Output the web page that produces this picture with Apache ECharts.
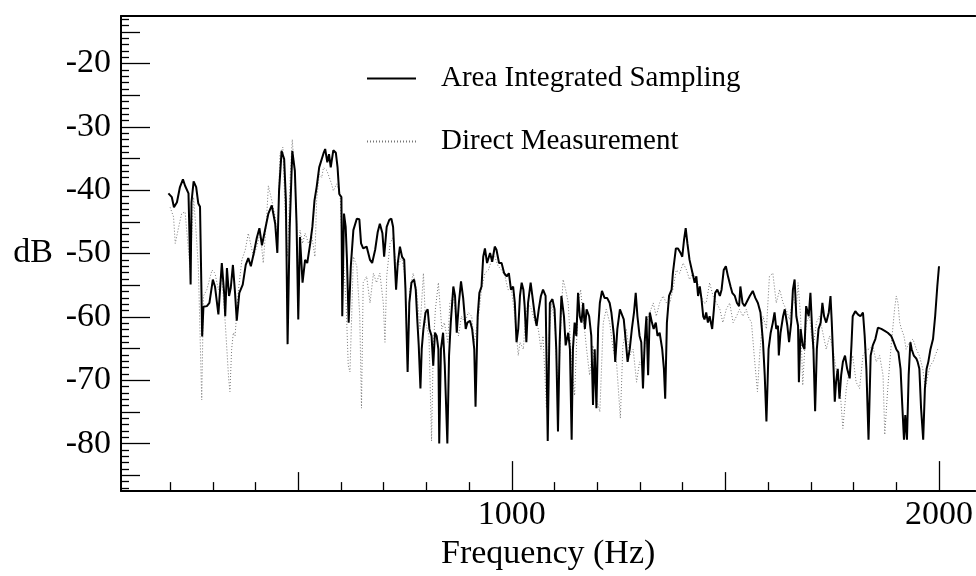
<!DOCTYPE html>
<html>
<head>
    <meta http-equiv="Content-Type" content="text/html; charset=utf-8" />
    <script src="https://cdn.jsdelivr.net/npm/echarts@6/dist/echarts.min.js"></script>
    <style>
        html, body { margin: 0; padding: 0; background: #fff; }
        #main { width: 976px; height: 576px; }
    </style>
    <title></title>
</head>
<body>
    <div id="main"></div>
    <script type="text/javascript">

        // Area Integrated Sampling (solid)
        var areaFreq = [196, 204, 209, 216, 220, 223, 230, 235, 243, 245, 248, 250, 255, 261, 266, 270, 273, 275, 278, 286,
            292, 300, 305, 313, 321, 327, 329, 333, 338, 342, 347, 352, 356, 362, 370, 377, 383, 389, 396, 403,
            409, 415, 423, 430, 438, 446, 451, 455, 461, 467, 471, 475, 480, 486, 492, 496, 500, 504, 510, 516,
            521, 528, 533, 538, 543, 549, 559, 563, 568, 572, 576, 582, 588, 592, 596, 601, 603, 607, 611, 614,
            618, 623, 629, 637, 643, 647, 652, 660, 668, 673, 680, 686, 691, 697, 701, 707, 713, 718, 722, 726,
            729, 733, 738, 743, 748, 751, 756, 760, 765, 771, 775, 779, 782, 786, 789, 793, 798, 803, 807, 812,
            816, 820, 824, 828, 830, 834, 839, 843, 849, 853, 857, 863, 867, 871, 876, 881, 886, 892, 896, 902,
            907, 912, 915, 920, 924, 929, 933, 937, 942, 949, 954, 960, 964, 970, 976, 982, 988, 993, 998, 1003,
            1007, 1011, 1015, 1019, 1023, 1027, 1030, 1034, 1038, 1044, 1048, 1054, 1058, 1063, 1068, 1073, 1079, 1084, 1089, 1095,
            1100, 1104, 1108, 1112, 1116, 1122, 1126, 1132, 1136, 1140, 1143, 1147, 1151, 1155, 1159, 1163, 1167, 1171, 1175, 1181,
            1186, 1190, 1194, 1198, 1202, 1206, 1211, 1217, 1223, 1229, 1233, 1239, 1242, 1247, 1253, 1257, 1262, 1267, 1271, 1276,
            1281, 1286, 1290, 1294, 1299, 1303, 1307, 1311, 1315, 1319, 1323, 1328, 1332, 1337, 1341, 1346, 1352, 1356, 1359, 1363,
            1368, 1374, 1377, 1384, 1389, 1395, 1399, 1403, 1407, 1411, 1416, 1423, 1428, 1432, 1436, 1440, 1444, 1448, 1451, 1455,
            1459, 1463, 1469, 1473, 1476, 1481, 1487, 1491, 1496, 1501, 1506, 1512, 1516, 1522, 1527, 1532, 1535, 1540, 1545, 1551,
            1557, 1564, 1570, 1576, 1582, 1588, 1592, 1596, 1601, 1606, 1611, 1615, 1619, 1623, 1625, 1629, 1635, 1639, 1645, 1649,
            1654, 1658, 1662, 1666, 1670, 1672, 1676, 1681, 1685, 1689, 1695, 1699, 1703, 1706, 1710, 1714, 1718, 1723, 1727, 1731,
            1736, 1742, 1746, 1749, 1752, 1756, 1759, 1763, 1767, 1771, 1775, 1780, 1785, 1791, 1795, 1798, 1804, 1810, 1816, 1822,
            1826, 1830, 1835, 1840, 1845, 1851, 1857, 1865, 1873, 1880, 1888, 1894, 1900, 1905, 1910, 1914, 1918, 1921, 1925, 1929,
            1933, 1936, 1941, 1947, 1950, 1954, 1958, 1963, 1967, 1971, 1975, 1980, 1986, 1991, 1996, 2000];
        var areaDb = [-40.5, -41.1, -42.7, -41.9, -42.2, -39.5, -38.3, -39.3, -40.5, -40.7, -54.9, -41.9, -38.6, -39.5, -42.1, -42.6, -54.6, -63.1, -58.4, -58.3,
            -57.8, -54.1, -55.2, -59.6, -51.5, -56.7, -59.9, -52.3, -56.7, -55.4, -51.8, -56.2, -60.6, -56.2, -54.9, -51.8, -50.7, -52.0, -49.9, -47.5,
            -46.0, -48.7, -46.0, -43.7, -42.4, -45.3, -49.9, -40.1, -33.8, -35.1, -41.6, -64.3, -45.8, -33.8, -36.9, -45.3, -60.4, -47.4, -54.6, -51.0,
            -51.5, -48.4, -45.8, -41.6, -39.5, -36.4, -34.2, -33.5, -35.6, -34.3, -36.4, -33.7, -34.1, -36.4, -40.6, -41.1, -59.9, -43.7, -45.8, -51.0,
            -60.9, -52.0, -46.3, -44.5, -44.6, -48.4, -49.2, -48.9, -51.0, -51.5, -49.4, -46.6, -45.3, -46.8, -50.5, -45.8, -44.7, -44.5, -45.8, -51.5,
            -55.7, -51.5, -48.9, -50.5, -51.0, -55.7, -68.7, -57.8, -54.6, -54.1, -55.7, -60.9, -64.5, -71.3, -65.1, -61.9, -59.3, -58.8, -61.9, -63.0,
            -67.7, -62.5, -63.0, -65.1, -80.0, -65.1, -62.5, -67.7, -80.0, -66.1, -60.9, -55.2, -56.7, -62.5, -57.8, -54.4, -57.0, -61.9, -60.9, -60.6,
            -61.9, -65.1, -74.2, -59.9, -56.2, -55.2, -50.5, -49.2, -51.5, -49.9, -51.3, -48.9, -49.4, -51.5, -51.5, -53.1, -53.6, -53.1, -55.7, -55.2,
            -57.8, -64.0, -61.9, -56.7, -54.6, -55.7, -58.3, -64.0, -57.8, -54.6, -56.7, -59.9, -61.4, -58.8, -56.7, -55.7, -56.7, -79.6, -57.8, -57.2,
            -58.8, -65.1, -78.1, -64.0, -56.7, -59.9, -64.5, -62.5, -65.1, -79.4, -65.1, -60.9, -63.0, -56.2, -59.9, -60.9, -57.8, -61.9, -58.8, -59.9,
            -63.0, -73.9, -65.1, -74.4, -61.9, -57.8, -55.9, -57.0, -57.0, -57.8, -59.3, -63.0, -67.1, -61.9, -58.8, -58.5, -60.4, -64.0, -67.1, -65.1,
            -61.9, -59.3, -56.2, -59.9, -63.0, -64.0, -71.3, -64.0, -59.9, -69.2, -59.3, -60.9, -61.9, -60.9, -63.0, -62.5, -65.1, -68.2, -72.9, -60.9,
            -56.7, -55.7, -53.1, -49.2, -49.2, -49.9, -50.5, -47.9, -46.0, -48.4, -51.0, -53.1, -54.6, -53.6, -56.7, -55.2, -57.2, -59.9, -60.4, -59.3,
            -60.9, -59.9, -61.9, -58.8, -56.2, -55.7, -56.7, -55.7, -52.6, -52.0, -53.6, -55.2, -56.2, -56.7, -57.8, -58.3, -55.2, -57.8, -58.3, -57.5,
            -56.7, -55.9, -57.0, -57.8, -59.3, -64.0, -69.2, -76.5, -65.1, -62.5, -60.9, -59.3, -61.9, -61.4, -66.1, -62.5, -59.9, -58.8, -61.4, -64.0,
            -60.9, -55.7, -54.1, -59.9, -61.4, -70.3, -61.9, -64.5, -65.1, -58.3, -59.9, -56.2, -61.9, -65.1, -74.9, -65.1, -61.9, -60.9, -57.8, -59.9,
            -60.9, -59.3, -56.7, -60.9, -66.1, -73.4, -70.3, -68.2, -72.9, -69.2, -67.1, -66.1, -68.2, -69.7, -64.5, -59.9, -59.1, -59.6, -59.9, -59.3,
            -63.0, -68.2, -79.4, -66.1, -64.5, -63.5, -61.7, -61.9, -62.2, -62.5, -63.0, -64.0, -65.1, -65.6, -68.2, -73.9, -79.4, -75.5, -79.4, -69.2,
            -64.0, -65.1, -66.1, -66.6, -67.1, -68.2, -74.4, -79.4, -71.3, -68.2, -67.1, -65.1, -63.5, -59.9, -55.2, -52.0];

        // Direct Measurement (dotted)
        var directFreq = [200, 208, 212, 220, 227, 235, 247, 255, 261, 266, 274, 278, 286, 298, 305, 313, 321, 329, 337, 340,
            344, 348, 352, 360, 368, 376, 383, 395, 403, 411, 418, 426, 430, 438, 446, 451, 457, 464, 469, 475,
            481, 486, 492, 496, 500, 504, 510, 516, 524, 532, 539, 543, 549, 555, 559, 567, 578, 582, 590, 598,
            602, 606, 612, 617, 621, 625, 629, 637, 644, 648, 652, 660, 668, 676, 683, 691, 699, 703, 707, 715,
            722, 728, 734, 742, 750, 756, 761, 769, 777, 785, 793, 798, 806, 812, 816, 821, 828, 836, 842, 850,
            855, 863, 867, 875, 882, 890, 898, 906, 912, 917, 923, 929, 937, 945, 953, 960, 968, 976, 984, 991,
            999, 1007, 1015, 1019, 1027, 1032, 1038, 1046, 1054, 1062, 1068, 1073, 1081, 1085, 1093, 1101, 1108, 1116, 1120, 1126,
            1132, 1140, 1147, 1155, 1161, 1167, 1175, 1182, 1190, 1198, 1206, 1214, 1221, 1229, 1237, 1245, 1254, 1260, 1268, 1276,
            1284, 1292, 1299, 1307, 1315, 1323, 1331, 1338, 1346, 1354, 1362, 1370, 1377, 1385, 1393, 1401, 1409, 1416, 1424, 1432,
            1440, 1448, 1455, 1463, 1471, 1479, 1487, 1494, 1502, 1510, 1518, 1526, 1533, 1541, 1549, 1553, 1561, 1568, 1575, 1580,
            1588, 1596, 1603, 1611, 1619, 1627, 1635, 1642, 1650, 1658, 1666, 1670, 1676, 1681, 1689, 1697, 1705, 1713, 1720, 1728,
            1736, 1744, 1752, 1759, 1767, 1775, 1783, 1791, 1798, 1806, 1814, 1822, 1830, 1837, 1845, 1853, 1861, 1869, 1873, 1880,
            1888, 1896, 1900, 1904, 1908, 1912, 1918, 1923, 1931, 1939, 1947, 1954, 1962, 1968, 1974, 1980, 1986, 1991, 1997];
        var directDb = [-42.7, -44.2, -48.4, -45.8, -43.7, -43.4, -52.6, -41.1, -46.8, -52.0, -73.1, -56.7, -55.7, -52.6, -53.1, -55.7, -53.6, -60.9, -69.7, -71.8,
            -65.1, -62.5, -63.0, -55.7, -51.0, -49.4, -46.8, -50.5, -48.9, -46.6, -51.5, -44.2, -39.3, -41.6, -44.2, -48.9, -34.3, -33.2, -43.2, -50.5,
            -38.0, -32.0, -38.0, -44.2, -58.8, -46.3, -48.4, -46.8, -48.4, -47.4, -50.5, -41.6, -37.5, -38.0, -36.4, -36.9, -39.0, -40.1, -39.0, -40.6,
            -47.4, -51.5, -57.8, -67.7, -68.7, -59.9, -50.5, -52.0, -59.9, -74.4, -54.6, -53.6, -57.8, -53.1, -54.6, -53.1, -57.8, -64.0, -53.6, -48.4,
            -47.4, -51.5, -52.0, -50.5, -53.6, -68.2, -55.7, -53.1, -55.7, -61.9, -53.1, -60.9, -63.0, -79.6, -65.1, -58.8, -54.6, -61.9, -60.9, -64.0,
            -57.8, -56.7, -58.8, -63.0, -59.9, -60.9, -59.3, -59.9, -64.0, -61.9, -59.3, -55.7, -53.1, -52.6, -51.0, -50.5, -52.0, -52.6, -53.6, -55.7,
            -55.7, -59.9, -66.1, -64.0, -65.1, -59.9, -57.8, -58.8, -60.9, -61.9, -65.1, -63.0, -74.4, -65.1, -57.8, -60.9, -72.9, -58.8, -54.1, -55.7,
            -57.8, -67.7, -72.4, -57.8, -55.7, -59.9, -65.1, -69.2, -64.5, -72.9, -75.0, -60.9, -58.8, -60.9, -65.1, -67.1, -76.0, -64.5, -61.9, -66.1,
            -65.1, -70.3, -67.1, -68.2, -60.9, -59.3, -57.8, -59.9, -57.8, -56.7, -57.8, -57.8, -55.7, -52.6, -53.1, -51.5, -52.6, -54.1, -53.1, -54.1,
            -55.7, -57.8, -57.8, -54.6, -56.7, -57.8, -58.8, -60.9, -58.8, -57.8, -60.9, -59.9, -58.8, -59.9, -58.8, -59.9, -60.9, -66.6, -71.8, -66.1,
            -59.9, -61.9, -53.6, -53.1, -57.8, -55.7, -57.8, -58.8, -60.4, -56.7, -58.8, -54.6, -59.9, -70.8, -60.9, -59.9, -65.1, -60.9, -59.9, -62.5,
            -65.1, -63.0, -65.1, -68.2, -70.3, -77.6, -71.3, -68.2, -66.1, -70.3, -71.3, -66.1, -65.1, -65.1, -64.5, -67.1, -66.1, -69.2, -78.6, -71.3,
            -64.5, -58.8, -56.7, -57.8, -60.9, -61.9, -63.0, -65.1, -64.0, -63.5, -65.1, -66.1, -68.2, -71.3, -69.2, -67.6, -67.1, -66.1, -65.1];

        // axis ticks and labels
        var xLabels = [1000, 2000];
        var xMidTicks = [500, 1500];
        var xMinorTicks = [200, 300, 400, 600, 700, 800, 900, 1100, 1200, 1300, 1400, 1600, 1700, 1800, 1900];
        var yLabels = [-80, -70, -60, -50, -40, -30, -20];
        var yMidTicks = [-85, -75, -65, -55, -45, -35, -25, -15];
        var yMinorTicks = [-87, -86, -84, -83, -82, -81, -79, -78, -77, -76, -74, -73, -72, -71, -69, -68, -67, -66,
            -64, -63, -62, -61, -59, -58, -57, -56, -54, -53, -52, -51, -49, -48, -47, -46, -44, -43, -42, -41,
            -39, -38, -37, -36, -34, -33, -32, -31, -29, -28, -27, -26, -24, -23, -22, -21, -19, -18, -17, -16, -14, -13];

        var serif = '"Liberation Serif", "Times New Roman", serif';
        var xMin = 85, xMax = 2085;
        var yMin = -87.5, yMax = -12.5;

        function zip(a, b) {
            var out = [];
            for (var i = 0; i < a.length; i++) {
                out.push([a[i], b[i]]);
            }
            return out;
        }

        //只画刻度的辅助轴
        function tickAxis(pos, vals, len, isX) {
            return {
                type: 'value',
                position: pos,
                min: isX ? xMin : yMin,
                max: isX ? xMax : yMax,
                axisLine: { show: false },
                axisTick: { show: vals.length > 0, inside: true, length: len, customValues: vals, lineStyle: { color: '#000', width: 1.3 } },
                axisLabel: { show: false },
                splitLine: { show: false }
            };
        }

        function plain(v) {
            return String(v);
        }

        var xMain = {
            type: 'value',
            position: 'bottom',
            min: xMin,
            max: xMax,
            axisLine: { show: true, lineStyle: { color: '#000', width: 2 } },
            axisTick: { show: true, inside: true, length: 30, customValues: xLabels, lineStyle: { color: '#000', width: 1.3 } },
            axisLabel: { customValues: xLabels, formatter: plain, fontFamily: serif, fontSize: 34, color: '#000', margin: 7 },
            splitLine: { show: false },
            name: 'Frequency (Hz)',
            nameLocation: 'middle',
            nameGap: 43,
            nameTextStyle: { fontFamily: serif, fontSize: 34, color: '#000' }
        };
        var xTop = tickAxis('top', [], 0, true);
        xTop.axisLine = { show: true, lineStyle: { color: '#000', width: 2 } };

        var yMain = {
            type: 'value',
            position: 'left',
            min: yMin,
            max: yMax,
            axisLine: { show: true, lineStyle: { color: '#000', width: 2 } },
            axisTick: { show: true, inside: true, length: 29, customValues: yLabels, lineStyle: { color: '#000', width: 1.3 } },
            axisLabel: { customValues: yLabels, formatter: plain, fontFamily: serif, fontSize: 34, color: '#000', margin: 10 },
            splitLine: { show: false },
            name: 'dB',
            nameLocation: 'middle',
            nameRotate: 0,
            nameGap: 68,
            nameTextStyle: { fontFamily: serif, fontSize: 34, color: '#000' }
        };

        var option = {
            animation: false,
            backgroundColor: '#fff',
            grid: { left: 121, top: 16, right: 0, bottom: 79, containLabel: false },
            legend: {
                orient: 'vertical',
                left: 361,
                top: 59,
                itemWidth: 49,
                itemHeight: 14,
                itemGap: 34,
                data: ['Area Integrated Sampling', 'Direct Measurement'],
                itemStyle: { opacity: 0 },
                textStyle: { fontFamily: serif, fontSize: 29, color: '#000', padding: [0, 0, 0, 20] }
            },
            xAxis: [xMain, tickAxis('bottom', xMidTicks, 19, true), tickAxis('bottom', xMinorTicks, 9, true), xTop],
            yAxis: [yMain, tickAxis('left', yMidTicks, 19, false), tickAxis('left', yMinorTicks, 8, false)],
            series: [
                {
                    name: 'Direct Measurement',
                    type: 'line',
                    symbol: 'none',
                    data: zip(directFreq, directDb),
                    lineStyle: { color: '#777', width: 1, type: [1, 2] },
                    itemStyle: { color: '#777' }
                },
                {
                    name: 'Area Integrated Sampling',
                    type: 'line',
                    symbol: 'none',
                    data: zip(areaFreq, areaDb),
                    lineStyle: { color: '#000', width: 2 },
                    itemStyle: { color: '#000' }
                }
            ]
        };

        var myChart = echarts.init(document.getElementById('main'));
        myChart.setOption(option);
    </script>
</body>
</html>
